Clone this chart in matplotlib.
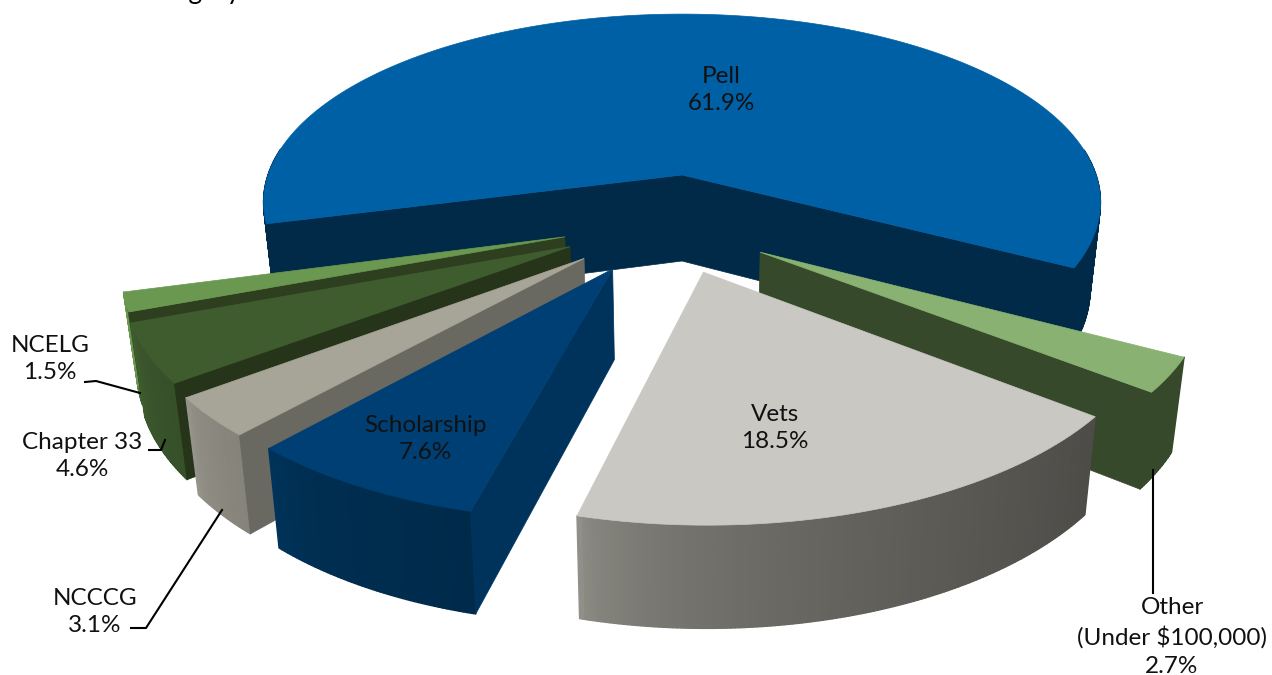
import numpy as np
import matplotlib
matplotlib.use('Agg')
from matplotlib import pyplot as plt
from matplotlib.collections import PolyCollection
from matplotlib.colors import to_rgb

#data, clockwise from the left end of Pell
names = ['Pell', 'Other', 'Vets', 'Scholarship', 'NCCCG', 'Chapter 33', 'NCELG']
shares = [61.9, 2.7, 18.5, 7.6, 3.1, 4.6, 1.5]

#pull-out of each slice on the ground plane (x right, y away from viewer)
pull_x = [0.0, 0.178, 0.048, -0.156, -0.222, -0.256, -0.270]
pull_y = [0.0, -0.395, -0.490, -0.475, -0.425, -0.368, -0.320]

#colours: top, wall on the clockwise cut, wall on the other cut, outer wall left and right
top_col = ['#0060a6', '#89b272', '#c9c8c3', '#003f73', '#a7a498', '#3f5c2f', '#6b9850']
cw_col = ['#002a47', '#37492b', '#55534f', '#002c4f', '#8c8a80', '#3a5629', '#3c5a2a']
ccw_col = ['#002a47', '#37492b', '#55534f', '#00335c', '#6a6961', '#26341a', '#2e3f1f']
out_left = ['#002a47', '#37492b', '#908f88', '#00335a', '#95938a', '#3f5c2f', '#6b9850']
out_right = ['#002a47', '#37492b', '#4d4c48', '#002a4a', '#85837a', '#36502a', '#3c5a2a']

#camera
cx, cy = 682, 175
R = 414
tilt = 0.445
persp = 0.145
depth = 86
shrink = 0.025
start_angle = 194.8


def project(x, y, z):
    w = 1 + persp * y
    sx = cx + R * x / w * (1 - shrink * z)
    sy = cy - R * tilt * y / w + depth * z / w ** 0.75
    return np.column_stack([sx, sy])


def blend(c1, c2, n):
    c1 = np.array(to_rgb(c1))
    c2 = np.array(to_rgb(c2))
    t = np.linspace(0, 1, n)[:, None] ** 0.5
    return c1 * (1 - t) + c2 * t


def draw_slice(ax, i, a1, a2):
    # a1 > a2, going clockwise
    px, py = pull_x[i], pull_y[i]
    a = np.radians(np.linspace(a1, a2, int(a1 - a2) * 2 + 2))
    ex, ey = px + np.cos(a), py + np.sin(a)
    top = project(ex, ey, 0)
    bottom = project(ex, ey, 1)

    # outer wall, split up for the shading
    mid = (a[:-1] + a[1:]) / 2
    keep = np.where(np.sin(mid) < 0.14)[0]
    quads = [[top[k], top[k + 1], bottom[k + 1], bottom[k]] for k in keep]
    if quads:
        xs = np.array([q[0][0] for q in quads])
        order = np.argsort(np.argsort(xs))
        cols = blend(out_left[i], out_right[i], len(quads))[order]
        ax.add_collection(PolyCollection(quads, facecolors=cols, edgecolors=cols, linewidths=1.0))

    # the flat cuts, only the ones that face the viewer
    apex_t = project(np.array([px]), np.array([py]), 0)[0]
    apex_b = project(np.array([px]), np.array([py]), 1)[0]
    if np.sin(np.radians(a1 + 90)) < 0:
        ax.fill(*zip(apex_t, top[0], bottom[0], apex_b), color=ccw_col[i], lw=0.5)
    if np.sin(np.radians(a2 - 90)) < 0:
        ax.fill(*zip(apex_t, top[-1], bottom[-1], apex_b), color=cw_col[i], lw=0.5)

    ax.fill(*np.vstack([apex_t, top]).T, color=top_col[i], lw=0.5)


fig = plt.figure(figsize=(12.72, 6.75), dpi=100)
ax = fig.add_axes([0, 0, 1, 1])
ax.set_xlim(0, 1272)
ax.set_ylim(675, 0)
ax.axis('off')
plt.rcParams['font.family'] = ['Lato', 'DejaVu Sans']

edges = start_angle - np.concatenate([[0], np.cumsum(shares)]) * 3.6

#leader lines go under the slices
ax.plot([85, 96, 140], [382, 381, 393], color='black', lw=1.5)
ax.plot([149, 161, 165], [450, 450, 440], color='black', lw=1.5)
ax.plot([131, 146, 222], [628, 628, 510], color='black', lw=1.5)

#back to front
for i in [0, 6, 5, 4, 3, 1, 2]:
    draw_slice(ax, i, edges[i], edges[i + 1])

ax.plot([1153, 1153], [470, 593], color='black', lw=1.5)

fs = 17.5
tc = '#111111'
ls = 1.4
ax.text(721, 90, 'Pell\n61.9%', ha='center', va='center', fontsize=fs, color=tc, linespacing=ls)
ax.text(775, 428, 'Vets\n18.5%', ha='center', va='center', fontsize=fs, color=tc, linespacing=ls)
ax.text(425, 439, 'Scholarship\n7.6%', ha='center', va='center', fontsize=fs, color=tc, linespacing=ls)
ax.text(50, 359, 'NCELG\n1.5%', ha='center', va='center', fontsize=fs, color=tc, linespacing=ls)
ax.text(82, 456, 'Chapter 33\n4.6%', ha='center', va='center', fontsize=fs, color=tc, linespacing=ls)
ax.text(95, 612, 'NCCCG\n3.1%', ha='center', va='center', fontsize=fs, color=tc, linespacing=ls)
ax.text(1172, 637, 'Other\n(Under $100,000)\n2.7%', ha='center', va='center', fontsize=fs, color=tc, linespacing=ls)

#title is cut off by the top of the picture
ax.text(241, -1, 'Category', ha='right', va='baseline', fontsize=19, color='black', clip_on=False)

fig.savefig('out.png', dpi=100)
